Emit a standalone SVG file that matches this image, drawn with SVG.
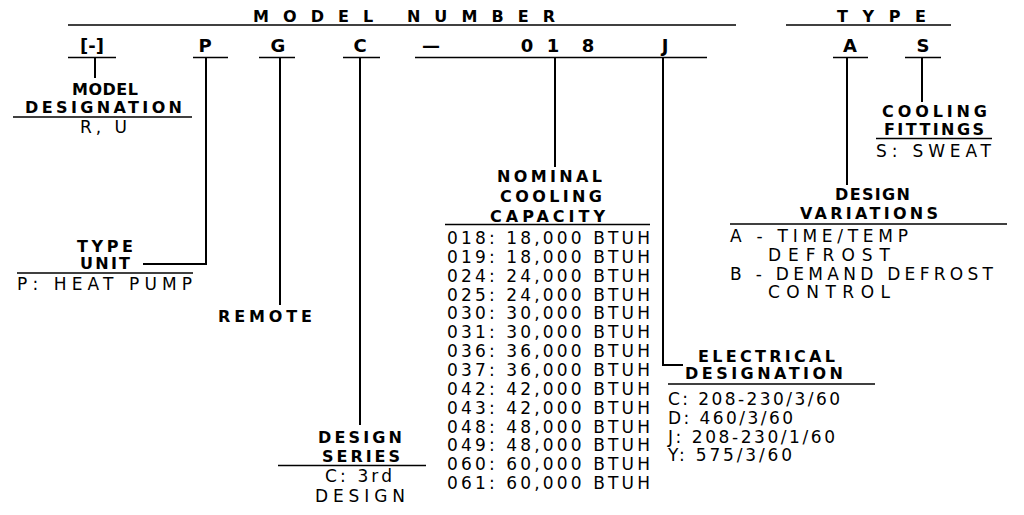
<svg xmlns="http://www.w3.org/2000/svg" width="1024" height="515" viewBox="0 0 1024 515">
<style>
text{font-family:"DejaVu Sans","Liberation Sans",Arial,sans-serif;fill:#000}
.h{font-size:16px;font-weight:bold}
.c{font-size:18px;font-weight:bold;text-anchor:middle}
.b{font-size:16px;font-weight:bold}
.r{font-size:17px}
.ln{stroke:#000;stroke-width:1.6;fill:none}
.cn{stroke:#000;stroke-width:2;fill:none}
</style>
<rect width="1024" height="515" fill="#fff"/>
<g id="header">
<text class="h" x="253" y="22" textLength="302" lengthAdjust="spacing">MODEL NUMBER</text>
<line class="ln" x1="68" y1="25" x2="736" y2="25"/>
<text class="h" x="837" y="22" textLength="89" lengthAdjust="spacing">TYPE</text>
<line class="ln" x1="786" y1="25" x2="951" y2="25"/>
</g>
<g id="code">
<text class="c" x="92" y="52">[-]</text>
<text class="c" x="205" y="52">P</text>
<text class="c" x="278" y="52">G</text>
<text class="c" x="360" y="52">C</text>
<text class="c" x="431" y="52">—</text>
<text class="c" x="527" y="52">0</text>
<text class="c" x="553" y="52">1</text>
<text class="c" x="588" y="52">8</text>
<text class="c" x="665" y="52">J</text>
<text class="c" x="850" y="52">A</text>
<text class="c" x="923" y="52">S</text>
<line class="ln" x1="68" y1="57.5" x2="116" y2="57.5"/>
<line class="ln" x1="193" y1="57.5" x2="228" y2="57.5"/>
<line class="ln" x1="259" y1="57.5" x2="295" y2="57.5"/>
<line class="ln" x1="343" y1="57.5" x2="380" y2="57.5"/>
<line class="ln" x1="415" y1="57.5" x2="707" y2="57.5"/>
<line class="ln" x1="833" y1="57.5" x2="868" y2="57.5"/>
<line class="ln" x1="905" y1="57.5" x2="941" y2="57.5"/>
</g>
<g id="connectors">
<path class="cn" d="M95 57V78"/>
<path class="cn" d="M206 57V264H143"/>
<path class="cn" d="M280 57V305"/>
<path class="cn" d="M360 57V425"/>
<path class="cn" d="M555 57V167"/>
<path class="cn" d="M663 57V365H683"/>
<path class="cn" d="M847 57V185"/>
<path class="cn" d="M922 57V102"/>
</g>
<g id="model-designation">
<text class="b" x="72" y="95" textLength="66" lengthAdjust="spacing">MODEL</text>
<text class="b" x="25" y="113" textLength="157" lengthAdjust="spacing">DESIGNATION</text>
<line class="ln" x1="13" y1="117" x2="192" y2="117"/>
<text class="r" x="80" y="133" textLength="47" lengthAdjust="spacing">R, U</text>
</g>
<g id="type-unit">
<text class="b" x="77" y="252" textLength="56" lengthAdjust="spacing">TYPE</text>
<text class="b" x="80" y="269" textLength="50" lengthAdjust="spacing">UNIT</text>
<line class="ln" x1="17" y1="273" x2="193" y2="273"/>
<text class="r" x="17" y="290" textLength="175" lengthAdjust="spacing">P: HEAT PUMP</text>
</g>
<g id="remote">
<text class="b" x="218" y="322" textLength="94" lengthAdjust="spacing">REMOTE</text>
</g>
<g id="design-series">
<text class="b" x="318" y="443" textLength="84" lengthAdjust="spacing">DESIGN</text>
<text class="b" x="322" y="462" textLength="78" lengthAdjust="spacing">SERIES</text>
<line class="ln" x1="278" y1="465.5" x2="426" y2="465.5"/>
<text class="r" x="325" y="482" textLength="67" lengthAdjust="spacing">C: 3rd</text>
<text class="r" x="315" y="502" textLength="90" lengthAdjust="spacing">DESIGN</text>
</g>
<g id="nominal-cooling-capacity">
<text class="b" x="497" y="182" textLength="105" lengthAdjust="spacing">NOMINAL</text>
<text class="b" x="500" y="202" textLength="102" lengthAdjust="spacing">COOLING</text>
<text class="b" x="490" y="222" textLength="115" lengthAdjust="spacing">CAPACITY</text>
<line class="ln" x1="445" y1="224.5" x2="650" y2="224.5"/>
<text class="r" x="447" y="244" textLength="203" lengthAdjust="spacing">018: 18,000 BTUH</text>
<text class="r" x="447" y="262.9" textLength="203" lengthAdjust="spacing">019: 18,000 BTUH</text>
<text class="r" x="447" y="281.7" textLength="203" lengthAdjust="spacing">024: 24,000 BTUH</text>
<text class="r" x="447" y="300.6" textLength="203" lengthAdjust="spacing">025: 24,000 BTUH</text>
<text class="r" x="447" y="319.4" textLength="203" lengthAdjust="spacing">030: 30,000 BTUH</text>
<text class="r" x="447" y="338.3" textLength="203" lengthAdjust="spacing">031: 30,000 BTUH</text>
<text class="r" x="447" y="357.1" textLength="203" lengthAdjust="spacing">036: 36,000 BTUH</text>
<text class="r" x="447" y="376" textLength="203" lengthAdjust="spacing">037: 36,000 BTUH</text>
<text class="r" x="447" y="394.8" textLength="203" lengthAdjust="spacing">042: 42,000 BTUH</text>
<text class="r" x="447" y="413.7" textLength="203" lengthAdjust="spacing">043: 42,000 BTUH</text>
<text class="r" x="447" y="432.5" textLength="203" lengthAdjust="spacing">048: 48,000 BTUH</text>
<text class="r" x="447" y="451.4" textLength="203" lengthAdjust="spacing">049: 48,000 BTUH</text>
<text class="r" x="447" y="470.2" textLength="203" lengthAdjust="spacing">060: 60,000 BTUH</text>
<text class="r" x="447" y="489.1" textLength="203" lengthAdjust="spacing">061: 60,000 BTUH</text>
</g>
<g id="electrical-designation">
<text class="b" x="698" y="362" textLength="137" lengthAdjust="spacing">ELECTRICAL</text>
<text class="b" x="685" y="379" textLength="158" lengthAdjust="spacing">DESIGNATION</text>
<line class="ln" x1="668" y1="384" x2="875" y2="384"/>
<text class="r" x="668" y="405" textLength="172" lengthAdjust="spacing">C: 208-230/3/60</text>
<text class="r" x="668" y="424" textLength="125" lengthAdjust="spacing">D: 460/3/60</text>
<text class="r" x="668" y="443" textLength="167" lengthAdjust="spacing">J: 208-230/1/60</text>
<text class="r" x="668" y="461" textLength="124" lengthAdjust="spacing">Y: 575/3/60</text>
</g>
<g id="cooling-fittings">
<text class="b" x="882" y="117" textLength="105" lengthAdjust="spacing">COOLING</text>
<text class="b" x="884" y="135" textLength="100" lengthAdjust="spacing">FITTINGS</text>
<line class="ln" x1="876" y1="138.5" x2="992" y2="138.5"/>
<text class="r" x="876" y="157" textLength="115" lengthAdjust="spacing">S: SWEAT</text>
</g>
<g id="design-variations">
<text class="b" x="835" y="200" textLength="75" lengthAdjust="spacing">DESIGN</text>
<text class="b" x="800" y="219" textLength="138" lengthAdjust="spacing">VARIATIONS</text>
<line class="ln" x1="730" y1="224" x2="1007" y2="224"/>
<text class="r" x="730" y="242" textLength="178" lengthAdjust="spacing">A - TIME/TEMP</text>
<text class="r" x="768" y="261" textLength="122" lengthAdjust="spacing">DEFROST</text>
<text class="r" x="730" y="280" textLength="263" lengthAdjust="spacing">B - DEMAND DEFROST</text>
<text class="r" x="768" y="298" textLength="122" lengthAdjust="spacing">CONTROL</text>
</g>
</svg>
